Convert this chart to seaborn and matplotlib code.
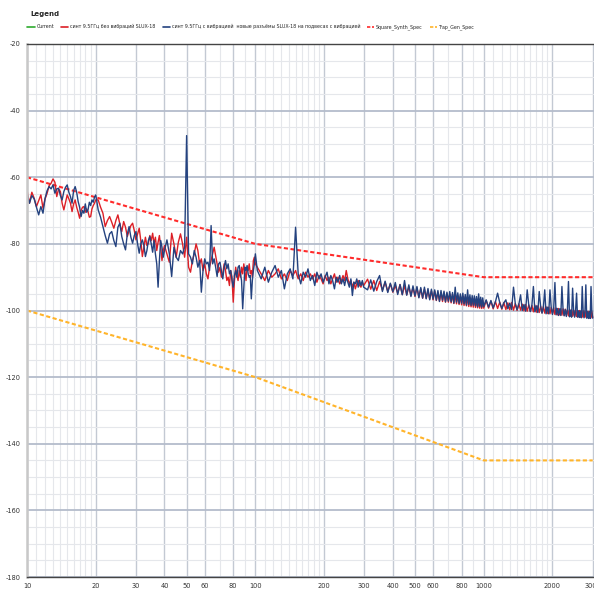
import numpy as np
import pandas as pd
import seaborn as sns
import matplotlib.pyplot as plt
from matplotlib import font_manager
from matplotlib.lines import Line2D

# частотная сетка (Гц)
freq = [10, 10.25, 10.5, 10.75, 11, 11.25, 11.5, 11.75, 12, 12.25, 12.5, 12.75, 13, 13.25, 13.5, 13.75,
        14, 14.25, 14.5, 14.75, 15, 15.25, 15.5, 15.75, 16, 16.25, 16.5, 16.75, 17, 17.25, 17.5, 17.75,
        18, 18.25, 18.5, 18.75, 19, 19.25, 19.5, 19.75, 20,
        20.5, 21, 21.5, 22, 22.5, 23, 23.5, 24, 24.5, 25, 25.5, 26, 26.5, 27, 27.5, 28, 28.5, 29, 29.5, 30,
        30.5, 31, 31.5, 32, 32.5, 33, 33.5, 34, 34.5, 35, 35.5, 36, 36.5, 37, 37.5, 38, 38.5, 39, 39.5, 40,
        41, 42, 43, 44, 45, 46, 47, 48, 49, 50, 51, 52, 53, 54, 55, 56, 57, 58, 59, 60,
        61, 62, 63, 64, 65, 66, 67, 68, 69, 70, 71, 72, 73, 74, 75, 76, 77, 78, 79, 80,
        81, 82, 83, 84, 85, 86, 87, 88, 89, 90, 91, 92, 93, 94, 95, 96, 97, 98, 99, 100,
        102, 106, 110, 114, 118, 122, 126, 130, 134, 138, 142, 146, 150, 154, 158, 162, 166, 170, 174, 178,
        182, 186, 190, 194, 198, 202, 206, 210, 214, 218, 222, 226, 230, 234, 238, 242, 246, 250, 254, 258,
        262, 266, 270, 274, 278, 282, 286, 290, 294, 298,
        310, 320, 330, 340, 350, 360, 370, 380, 390, 400, 410, 420, 430, 440, 450, 460, 470, 480, 490, 500,
        510, 520, 530, 540, 550, 560, 570, 580, 590, 600, 610, 620, 630, 640, 650, 660, 670, 680, 690, 700,
        710, 720, 730, 740, 750, 760, 770, 780, 790, 800, 810, 820, 830, 840, 850, 860, 870, 880, 890, 900,
        910, 920, 930, 940, 950, 960, 970, 980, 990, 1000,
        1025, 1050, 1075, 1100, 1125, 1150, 1175, 1200, 1225, 1250, 1275, 1300, 1325, 1350, 1375, 1400,
        1425, 1450, 1475, 1500, 1525, 1550, 1575, 1600, 1625, 1650, 1675, 1700, 1725, 1750, 1775, 1800,
        1825, 1850, 1875, 1900, 1925, 1950, 1975, 2000, 2025, 2050, 2075, 2100, 2125, 2150, 2175, 2200,
        2225, 2250, 2275, 2300, 2325, 2350, 2375, 2400, 2425, 2450, 2475, 2500, 2525, 2550, 2575, 2600,
        2625, 2650, 2675, 2700, 2725, 2750, 2775, 2800, 2825, 2850, 2875, 2900, 2925, 2950, 2975, 3000]

# синт 9.5ГГц без вибраций (красная)
red = [-63.8, -67.8, -64.5, -66.3, -68.8, -67, -65.3, -69.3, -66.5, -64.8, -62.5, -61.8, -60.5, -61.5, -65.8, -63.5,
       -64.3, -67.8, -69.8, -67.5, -65.3, -66.5, -67.8, -70.3, -68, -66.8, -69, -70.5, -72.3, -70, -69, -68.8,
       -70.5, -69.5, -70.3, -72, -71.8, -69.5, -68.5, -67.8, -66.8,
       -66.8, -69, -70.8, -74.8, -73, -71.8, -73.5, -75.3, -73, -71.3, -74, -76.3, -73.3, -75, -77.8, -76, -74.5, -73.8, -76, -78.8,
       -77, -75.3, -79, -83.8, -81, -78, -80.5, -79.8, -77.5, -79, -76.8, -80, -78, -82, -79.5, -77.5, -81, -85, -82, -80.5,
       -83, -85.5, -76.8, -80, -84, -79.5, -77, -80, -84, -78,
       -87, -88.5, -85, -83, -80, -82, -86, -84.5, -88, -86,
       -89, -90.5, -87, -85, -83, -81, -83.5, -86, -88.5, -87,
       -90, -89, -86, -88, -91, -90, -92.5, -88, -90, -97.5,
       -91, -87, -89.5, -91, -88, -90, -87, -89, -86, -88.5,
       -91, -87, -88, -86, -89, -88, -90, -85, -84, -86,
       -87, -89, -91, -88, -90, -89, -87.5, -90.5, -89, -91,
       -88, -89.5, -88, -90.5, -89, -91, -88.5, -90, -89, -90.5,
       -89, -91.5, -89.5, -90.5, -92, -89.5, -91, -90, -92, -90.5,
       -89, -91.5, -90, -92, -91, -89.5, -91, -88, -90.5, -92,
       -91, -93, -91.5, -93.5, -92, -91, -92.5, -93, -91.5, -92.5,
       -90.6, -93.6, -91, -94, -91.3, -93.9, -91.5, -94.3, -92, -94.5,
       -92.5, -94.8, -92.2, -95.2, -92.6, -95.3, -92.9, -95.5, -93.1, -95.8,
       -93.2, -96, -93.5, -96.3, -93.6, -96.4, -93.9, -96.6, -94.1, -96.8,
       -94.2, -97, -94.5, -97.2, -94.6, -97.3, -94.8, -97.5, -95, -97.5,
       -95, -97.7, -95.2, -97.9, -95.3, -98, -95.5, -98.2, -95.6, -98.3,
       -95.7, -98.5, -95.9, -98.6, -96, -98.8, -96.2, -98.9, -96.3, -99,
       -96.4, -99.1, -96.6, -99.2, -96.7, -99.3, -96.8, -99.4, -97, -99.3,
       -97, -99.3, -97.2, -99.5, -97.3, -99.4, -97.5, -99.6, -97.6, -99.7,
       -97.7, -99.8, -97.6, -99.9, -97.9, -100, -98, -99.9, -98.1, -100.1,
       -98.2, -100.2, -98.3, -100.3, -98.5, -100.4, -98.4, -100.5, -98.6, -100.6,
       -98.7, -100.7, -98.8, -100.8, -98.9, -100.9, -99, -101, -99.1, -101,
       -99.2, -101.2, -99.3, -101.3, -99.4, -101.3, -99.5, -101.4, -99.5, -101.5,
       -99.6, -101.5, -99.7, -101.6, -99.7, -101.7, -99.8, -101.7, -99.9, -101.8,
       -99.9, -101.8, -100, -101.9, -100, -101.9, -100.1, -102, -100.1, -102,
       -100.2, -102, -100.2, -102.1, -100.3, -102.1, -100.3, -102.2, -100.4, -102.1]

# синт 9.5ГГц с вибрацией (синяя)
blue = [-64.8, -67.8, -65.5, -66.5, -69, -71.3, -68.8, -70.8, -66.3, -64, -62.8, -63.5, -62.3, -64.8, -63.5, -63.3,
        -65.5, -66.8, -64.3, -63, -62.3, -64.5, -65.8, -67.8, -64, -62.8, -64.5, -67.3, -69, -71.8, -70, -70.8,
        -68, -70.5, -69.8, -67.5, -68.5, -66.8, -67.5, -66, -65.3,
        -69.8, -72, -74.8, -77.5, -79.8, -77, -76.3, -79, -80.8, -75, -73.8, -77.8, -80, -81.8, -77, -74.8, -78, -79.8, -77.5, -76.3,
        -80, -82.8, -80, -78.8, -80.5, -83.8, -82, -79, -77.8, -80, -82.5, -79, -83, -86, -93, -85, -79, -81, -84, -82,
        -78.8, -83, -89.8, -81, -84, -85, -82, -83, -81, -47.5,
        -83, -84, -86, -82, -84, -87, -85, -94.5, -88, -84.5,
        -86, -85.5, -88, -74.5, -86, -84.5, -87, -89.8, -86, -85.5,
        -88, -90.5, -87, -85, -87.5, -86, -89, -88, -91, -93,
        -89.5, -88, -90, -87, -86.5, -89, -91, -99.5, -93, -87,
        -88, -86.5, -89, -90, -89.5, -96.5, -91, -88, -86, -83,
        -88, -90.5, -87, -91.5, -88.5, -86.5, -90, -88, -93.5, -89,
        -87.5, -90.5, -75, -89, -92, -88.5, -90, -87.5, -91, -89.5,
        -92.5, -88.5, -90.5, -89, -91.5, -90, -88.5, -92, -89.5, -91,
        -93.5, -90, -91.5, -89.5, -92, -90.5, -92.5, -90, -91.5, -93,
        -90.5, -95.5, -91.5, -92, -90.5, -93, -91, -92.5, -91, -93,
        -93.8, -90.8, -94.2, -91.3, -89.5, -94.3, -91.2, -94.6, -91.8, -94.4,
        -91.6, -95.2, -92.2, -95.3, -91, -95.4, -92.3, -95.8, -92.6, -95.6,
        -92.8, -96.2, -93.1, -96.3, -93, -96.5, -93.4, -96.8, -93.6, -96.6,
        -93.8, -96.9, -94, -97.3, -94, -96.9, -94.2, -97.4, -94.5, -97.2,
        -94.3, -97.4, -94.6, -97.8, -93, -97.5, -94.7, -97.9, -95, -97.8,
        -94.8, -98, -95.2, -98.4, -93.8, -98.2, -95.3, -98.5, -95.5, -98.4,
        -95.6, -98.6, -95.8, -98.9, -95, -98.7, -96, -99, -96.2, -98.8,
        -96.8, -99, -97, -99.2, -97.4, -94.8, -97.6, -99.4, -97.7, -96.8,
        -99.5, -97.8, -99.7, -93, -98, -99.8, -98.1, -95.3, -100, -98.2,
        -100.2, -93.8, -98.4, -100.3, -98.5, -92.8, -100.4, -98.6, -100.6, -94.3,
        -98.8, -100.8, -98.9, -93.8, -101, -99, -101, -93.8, -99.2, -101.2,
        -99.3, -91.6, -101.3, -99.4, -101.5, -99.5, -101.5, -92.8, -99.6, -101.6,
        -99.7, -101.8, -99.8, -91.3, -101.9, -99.9, -102, -93.3, -100, -102,
        -100, -94.8, -102, -100.1, -102.1, -100.2, -102.2, -92.8, -100.3, -102.2,
        -100.3, -92.3, -102.3, -100.4, -102.4, -100.4, -102.4, -92.8, -100.5, -102.3]

# маски
spec_freq = [10, 100, 1000, 3000]
square_spec = [-60, -80, -90, -90]
trap_spec = [-100, -120, -145, -145]

x_labels = [10, 20, 30, 40, 50, 60, 80, 100, 200, 300, 400, 500, 600, 800, 1000, 2000, 3000]
x_minor = [11, 12, 13, 14, 15, 16, 17, 18, 19, 70, 90,
           110, 120, 130, 140, 150, 160, 170, 180, 190, 700, 900,
           1100, 1200, 1300, 1400, 1500, 1600, 1700, 1800, 1900]
y_labels = [-180, -160, -140, -120, -100, -80, -60, -40, -20]

names = ["Current",
         "синт 9.5ГГц без вибраций SLUX-18",
         "синт 9.5ГГц с вибрацией  новые разъёмы SLUX-18 на подвесах с вибрацией",
         "Square_Synth_Spec",
         "Trap_Gen_Spec"]

sns.set_style("white")
avail = {f.name for f in font_manager.fontManager.ttflist}
narrow = "Liberation Sans Narrow" if "Liberation Sans Narrow" in avail else "DejaVu Sans"
plt.rcParams['font.family'] = [narrow, 'DejaVu Sans']

meas = pd.DataFrame({'freq': freq, 'red': red, 'blue': blue})
spec = pd.DataFrame({'freq': spec_freq, 'square': square_spec, 'trap': trap_spec})

fig = plt.figure(figsize=(5.94, 5.92), dpi=100)
ax = fig.add_axes([27 / 594, 15 / 592, 567 / 594, 533 / 592])

c_red = '#dc1f26'
c_blue = '#24427f'
c_sq = '#ff2b2b'
c_trap = '#ffb42a'
c_cur = '#2eaa2e'

sns.lineplot(data=spec, x='freq', y='trap', ax=ax, color=c_trap, lw=1.5, dashes=(2, 1.2), sort=False)
sns.lineplot(data=spec, x='freq', y='square', ax=ax, color=c_sq, lw=1.5, dashes=(2, 1.2), sort=False)
sns.lineplot(data=meas, x='freq', y='red', ax=ax, color=c_red, lw=1.0, sort=False)
sns.lineplot(data=meas, x='freq', y='blue', ax=ax, color=c_blue, lw=1.0, sort=False)

ax.set_xscale('log')
ax.set_xlim(10, 3040)
ax.set_ylim(-180, -20)
ax.set_xlabel('')
ax.set_ylabel('')

ax.set_xticks(x_labels)
ax.set_xticks(x_minor, minor=True)
ax.set_xticklabels([str(v) for v in x_labels])
ax.set_xticklabels([], minor=True)
ax.set_yticks(y_labels)
ax.set_yticks(list(range(-175, -20, 5)), minor=True)
ax.set_yticklabels([str(v) for v in y_labels])

ax.tick_params(axis='both', which='both', labelsize=4.8, labelcolor='#333333',
               color='#333333', length=2.5, width=0.6, direction='out', pad=2)
ax.tick_params(axis='both', which='minor', length=2)

ax.grid(True, which='major', axis='y', color='#b4bccb', lw=1.3)
ax.grid(True, which='minor', axis='y', color='#e5e7eb', lw=0.8)
ax.grid(True, which='major', axis='x', color='#c3c9d3', lw=1.0)
ax.grid(True, which='minor', axis='x', color='#e5e7eb', lw=0.8)
ax.set_axisbelow(True)

for s in ['top', 'bottom']:
    ax.spines[s].set_color('#444444')
    ax.spines[s].set_linewidth(1.0)
ax.spines['left'].set_color('#c8c8c8')
ax.spines['left'].set_linewidth(1.8)
ax.spines['right'].set_visible(False)

# легенда
fig.text(30 / 594, 1 - 14 / 592, 'Legend', fontsize=5, fontweight='bold', va='center', ha='left')
handles = [Line2D([], [], color=c_cur, lw=1.2),
           Line2D([], [], color=c_red, lw=1.2),
           Line2D([], [], color=c_blue, lw=1.2),
           Line2D([], [], color=c_sq, lw=1.2, dashes=(2, 1)),
           Line2D([], [], color=c_trap, lw=1.2, dashes=(2, 1))]
leg = fig.legend(handles, names, loc='center left', bbox_to_anchor=(27 / 594, 1 - 27 / 592),
                 ncol=5, frameon=False, fontsize=3.4, handlelength=1.5, handletextpad=0.4,
                 columnspacing=1.5, borderaxespad=0, borderpad=0.1)

fig.savefig('out.png', dpi=100, facecolor='white')
